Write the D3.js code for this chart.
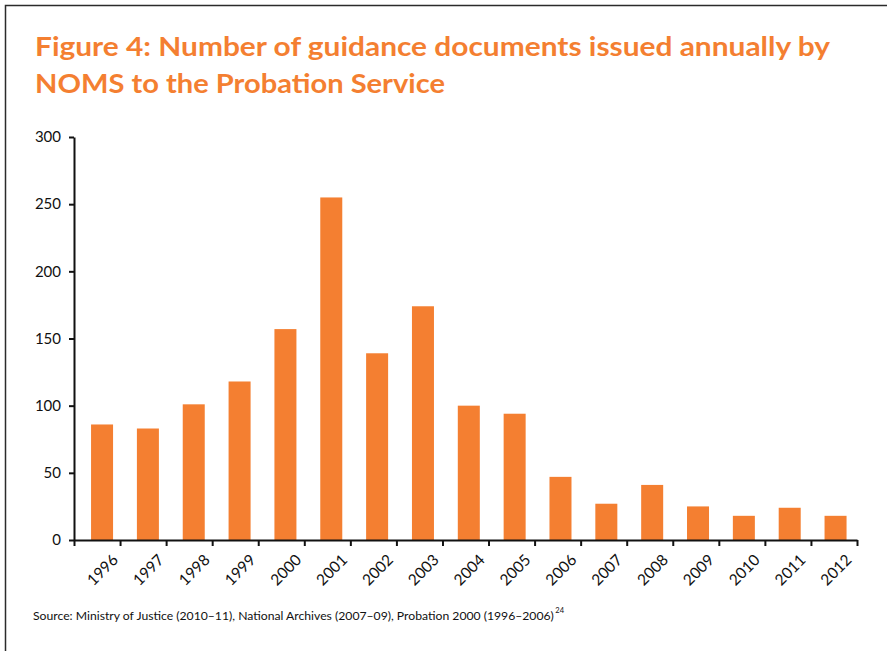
<!DOCTYPE html>
<html>
<head>
<meta charset="utf-8">
<script src="https://cdn.jsdelivr.net/npm/d3@7"></script>
<style>
    html, body { margin: 0; padding: 0; background: #fff; }
    .content { width: 887px; height: 651px; }
    text { font-family: Lato, 'Open Sans', sans-serif; }
</style>
</head>
<body>
<div class="content"></div>
<script>
// данные с графика
let years = ['1996', '1997', '1998', '1999', '2000', '2001', '2002', '2003', '2004',
    '2005', '2006', '2007', '2008', '2009', '2010', '2011', '2012'];
let documents = [86, 83, 101, 118, 157, 255, 139, 174, 100, 94, 47, 27, 41, 25, 18, 24, 18];
let yTicks = [0, 50, 100, 150, 200, 250, 300];
let titleLines = ['Figure 4: Number of guidance documents issued annually by', 'NOMS to the Probation Service'];
let sourceText = 'Source: Ministry of Justice (2010\u201311), National Archives (2007\u201309), Probation 2000 (1996\u20132006)';
let sourceNote = '24';

(function () {
    let width = 887;
    let height = 651;
    let orange = '#f47f31';

    let plot = {left: 74, right: 857, top: 137, bottom: 540};

    let svg = d3.select('.content').append('svg')
        .attr('width', width)
        .attr('height', height);

    // рамка сверху и слева
    svg.append('path')
        .attr('d', 'M5.5,' + height + 'V5.5H' + width)
        .attr('fill', 'none')
        .attr('stroke', '#2b2b2b')
        .attr('stroke-width', 1.5);

    // заголовок
    svg.append('g')
        .selectAll('text')
        .data(titleLines)
        .enter()
        .append('text')
        .attr('x', 35)
        .attr('y', function (d, i) { return 56 + i * 37; })
        .attr('fill', orange)
        .attr('font-size', 27)
        .attr('font-weight', 700)
        .attr('textLength', function (d, i) { return i === 0 ? 795 : 410; })
        .attr('lengthAdjust', 'spacingAndGlyphs')
        .text(function (d) { return d; });

    let xScale = d3.scaleBand()
        .domain(years)
        .range([plot.left, plot.right])
        .paddingInner(0.52)
        .paddingOuter(0.3)
        .align(0.62);

    // деления на оси X стоят на границах категорий
    let tickScale = d3.scaleLinear()
        .domain([0, years.length])
        .range([plot.left, plot.right]);

    let yScale = d3.scaleLinear()
        .domain([0, 300])
        .range([plot.bottom, plot.top]);

    // столбики
    svg.append('g')
        .selectAll('rect')
        .data(documents)
        .enter()
        .append('rect')
        .attr('x', function (d, i) { return xScale(years[i]); })
        .attr('y', function (d) { return yScale(d); })
        .attr('width', xScale.bandwidth())
        .attr('height', function (d) { return yScale(0) - yScale(d); })
        .attr('fill', orange);

    // ось Y
    let yAxis = d3.axisLeft(yScale)
        .tickValues(yTicks)
        .tickSizeInner(5)
        .tickSizeOuter(0)
        .tickPadding(8);

    let gY = svg.append('g')
        .attr('transform', 'translate(' + plot.left + ',0)')
        .call(yAxis);
    gY.selectAll('path, line').attr('stroke', '#111').attr('stroke-width', 2);
    gY.selectAll('text')
        .attr('font-size', 15)
        .attr('font-family', 'Lato, sans-serif')
        .attr('fill', '#111');

    // ось X: линия и деления
    let xTicks = d3.axisBottom(tickScale)
        .tickValues(d3.range(0, years.length + 1))
        .tickFormat('')
        .tickSizeInner(6)
        .tickSizeOuter(0);

    let gX = svg.append('g')
        .attr('transform', 'translate(0,' + plot.bottom + ')')
        .call(xTicks);
    gX.selectAll('path, line').attr('stroke', '#111').attr('stroke-width', 2);

    // подписи годов под углом
    let xLabels = d3.axisBottom(xScale)
        .tickSize(0)
        .tickPadding(0);

    let gXL = svg.append('g')
        .attr('transform', 'translate(0,' + plot.bottom + ')')
        .call(xLabels);
    gXL.select('.domain').remove();
    gXL.selectAll('text')
        .attr('x', 0)
        .attr('y', 0)
        .attr('dy', 0)
        .attr('font-size', 15.5)
        .attr('font-family', 'Lato, sans-serif')
        .attr('fill', '#111')
        .attr('text-anchor', 'end')
        .attr('transform', 'translate(' + (xScale.bandwidth() / 2 + 6) + ',21) rotate(-45)');

    // источник, сноска ставится сразу после текста
    let src = svg.append('text')
        .attr('x', 33)
        .attr('y', 620)
        .attr('font-size', 12.2)
        .attr('fill', '#111')
        .text(sourceText);
    let srcLen = src.node().getComputedTextLength();
    svg.append('text')
        .attr('x', 33 + srcLen + 1.5)
        .attr('y', 613)
        .attr('font-size', 7.5)
        .attr('fill', '#111')
        .text(sourceNote);
})();
</script>
</body>
</html>
